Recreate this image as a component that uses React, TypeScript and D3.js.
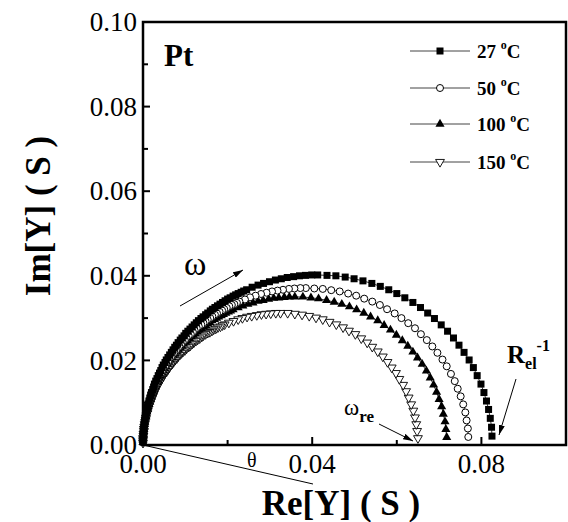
import React from "react";
import * as d3 from "d3";

// Re[Y], Im[Y] in S (right end -> origin)
const s27: [number, number][] = [
  [0.0825, 0.0021], [0.0824, 0.0042], [0.0821, 0.0063], [0.0817, 0.0084], [0.0812, 0.0104], [0.0806, 0.0124],
  [0.0799, 0.0144], [0.079, 0.0164], [0.0781, 0.0183], [0.0771, 0.0201], [0.0759, 0.0219], [0.0747, 0.0236],
  [0.0734, 0.0253], [0.072, 0.0269], [0.0705, 0.0284], [0.0689, 0.0299], [0.0673, 0.0312], [0.0656, 0.0325],
  [0.0638, 0.0337], [0.0619, 0.0348], [0.06, 0.0358], [0.0581, 0.0367], [0.0561, 0.0375], [0.0541, 0.0382],
  [0.052, 0.0388], [0.0499, 0.0393], [0.0478, 0.0397], [0.0456, 0.04], [0.0435, 0.0401],
  [0.0413, 0.0402], [0.0399, 0.0402], [0.0384, 0.0401], [0.037, 0.04], [0.0356, 0.0398], [0.0341, 0.0396],
  [0.0327, 0.0393], [0.0313, 0.039], [0.0299, 0.0386], [0.0285, 0.0382], [0.0272, 0.0378], [0.0258, 0.0373],
  [0.0245, 0.0367], [0.0238, 0.0364], [0.0232, 0.0361], [0.0225, 0.0358], [0.0219, 0.0355], [0.0213, 0.0352],
  [0.0206, 0.0348], [0.02, 0.0345], [0.0194, 0.0341], [0.0188, 0.0337], [0.0182, 0.0333], [0.0176, 0.0329],
  [0.017, 0.0325], [0.0164, 0.0321], [0.0159, 0.0317], [0.0153, 0.0312], [0.0148, 0.0308], [0.0142, 0.0303],
  [0.0137, 0.0299], [0.0131, 0.0294], [0.0126, 0.0289], [0.0121, 0.0284], [0.0116, 0.0279], [0.0111, 0.0274],
  [0.0106, 0.0269], [0.0101, 0.0264], [0.0097, 0.0258], [0.0092, 0.0253], [0.0088, 0.0248], [0.0083, 0.0242],
  [0.0079, 0.0236], [0.0075, 0.0231], [0.0071, 0.0225], [0.0067, 0.0219], [0.0063, 0.0213], [0.0059, 0.0207],
  [0.0055, 0.0201], [0.0052, 0.0195], [0.0048, 0.0189], [0.0045, 0.0183], [0.0042, 0.0176], [0.0039, 0.017],
  [0.0036, 0.0164], [0.0033, 0.0157], [0.003, 0.0151], [0.0027, 0.0144], [0.0025, 0.0137], [0.0023, 0.0131],
  [0.002, 0.0124], [0.0018, 0.0118], [0.0016, 0.0111], [0.0014, 0.0104], [0.0012, 0.0097], [0.0011, 0.009],
  [0.0009, 0.0084], [0.0008, 0.0077], [0.0006, 0.007], [0.0005, 0.0063], [0.0004, 0.0056], [0.0003, 0.0049],
  [0.0002, 0.0042], [0.0002, 0.0035], [0.0001, 0.0028], [0.0001, 0.0021], [0.0, 0.0014], [0.0, 0.0007],
];

const s50: [number, number][] = [
  [0.0769, 0.0019], [0.0768, 0.0039], [0.0765, 0.0058], [0.0762, 0.0077], [0.0757, 0.0096], [0.0751, 0.0115],
  [0.0744, 0.0133], [0.0737, 0.0151], [0.0728, 0.0168], [0.0718, 0.0186], [0.0708, 0.0202], [0.0696, 0.0218],
  [0.0684, 0.0233], [0.0671, 0.0248], [0.0657, 0.0262], [0.0643, 0.0276], [0.0627, 0.0288], [0.0611, 0.03],
  [0.0595, 0.0311], [0.0577, 0.0321], [0.056, 0.0331], [0.0542, 0.0339], [0.0523, 0.0346], [0.0504, 0.0353],
  [0.0485, 0.0358], [0.0465, 0.0363], [0.0445, 0.0366], [0.0425, 0.0369], [0.0405, 0.037],
  [0.0385, 0.0371], [0.0372, 0.0371], [0.0358, 0.037], [0.0345, 0.0369], [0.0331, 0.0367], [0.0318, 0.0365],
  [0.0305, 0.0363], [0.0292, 0.036], [0.0279, 0.0357], [0.0266, 0.0353], [0.0253, 0.0349], [0.0241, 0.0344],
  [0.0228, 0.0339], [0.0222, 0.0336], [0.0216, 0.0333], [0.021, 0.0331], [0.0204, 0.0328], [0.0198, 0.0324],
  [0.0192, 0.0321], [0.0187, 0.0318], [0.0181, 0.0315], [0.0175, 0.0311], [0.017, 0.0308], [0.0164, 0.0304],
  [0.0159, 0.03], [0.0153, 0.0296], [0.0148, 0.0292], [0.0143, 0.0288], [0.0138, 0.0284], [0.0132, 0.028],
  [0.0127, 0.0276], [0.0122, 0.0271], [0.0118, 0.0267], [0.0113, 0.0262], [0.0108, 0.0258], [0.0103, 0.0253],
  [0.0099, 0.0248], [0.0094, 0.0243], [0.009, 0.0238], [0.0086, 0.0233], [0.0082, 0.0228], [0.0078, 0.0223],
  [0.0074, 0.0218], [0.007, 0.0213], [0.0066, 0.0207], [0.0062, 0.0202], [0.0059, 0.0197], [0.0055, 0.0191],
  [0.0052, 0.0186], [0.0048, 0.018], [0.0045, 0.0174], [0.0042, 0.0168], [0.0039, 0.0163], [0.0036, 0.0157],
  [0.0033, 0.0151], [0.0031, 0.0145], [0.0028, 0.0139], [0.0026, 0.0133], [0.0023, 0.0127], [0.0021, 0.0121],
  [0.0019, 0.0115], [0.0017, 0.0108], [0.0015, 0.0102], [0.0013, 0.0096], [0.0011, 0.009], [0.001, 0.0083],
  [0.0008, 0.0077], [0.0007, 0.0071], [0.0006, 0.0064], [0.0005, 0.0058], [0.0004, 0.0052], [0.0003, 0.0045],
  [0.0002, 0.0039], [0.0001, 0.0032], [0.0001, 0.0026], [0.0001, 0.0019], [0.0, 0.0013], [0.0, 0.0006],
];

const s100: [number, number][] = [
  [0.0718, 0.0018], [0.0716, 0.0037], [0.0714, 0.0055], [0.071, 0.0073], [0.0706, 0.0091], [0.07, 0.0108],
  [0.0694, 0.0125], [0.0687, 0.0142], [0.0679, 0.0159], [0.067, 0.0175], [0.066, 0.0191], [0.0649, 0.0206],
  [0.0638, 0.022], [0.0626, 0.0234], [0.0613, 0.0247], [0.0599, 0.026], [0.0585, 0.0272], [0.057, 0.0283],
  [0.0555, 0.0294], [0.0538, 0.0303], [0.0522, 0.0312], [0.0505, 0.032], [0.0488, 0.0327], [0.047, 0.0333],
  [0.0452, 0.0338], [0.0434, 0.0342], [0.0415, 0.0346], [0.0397, 0.0348], [0.0378, 0.035],
  [0.0359, 0.035], [0.0346, 0.035], [0.0334, 0.0349], [0.0321, 0.0348], [0.0309, 0.0347], [0.0297, 0.0345],
  [0.0284, 0.0342], [0.0272, 0.034], [0.026, 0.0336], [0.0248, 0.0333], [0.0236, 0.0329], [0.0225, 0.0325],
  [0.0213, 0.032], [0.0207, 0.0317], [0.0202, 0.0315], [0.0196, 0.0312], [0.019, 0.0309], [0.0185, 0.0306],
  [0.0179, 0.0303], [0.0174, 0.03], [0.0169, 0.0297], [0.0163, 0.0294], [0.0158, 0.029], [0.0153, 0.0287],
  [0.0148, 0.0283], [0.0143, 0.028], [0.0138, 0.0276], [0.0133, 0.0272], [0.0128, 0.0268], [0.0123, 0.0264],
  [0.0119, 0.026], [0.0114, 0.0256], [0.011, 0.0252], [0.0105, 0.0247], [0.0101, 0.0243], [0.0096, 0.0239],
  [0.0092, 0.0234], [0.0088, 0.023], [0.0084, 0.0225], [0.008, 0.022], [0.0076, 0.0215], [0.0072, 0.0211],
  [0.0069, 0.0206], [0.0065, 0.0201], [0.0061, 0.0196], [0.0058, 0.0191], [0.0055, 0.0185], [0.0051, 0.018],
  [0.0048, 0.0175], [0.0045, 0.017], [0.0042, 0.0164], [0.0039, 0.0159], [0.0036, 0.0153], [0.0034, 0.0148],
  [0.0031, 0.0142], [0.0029, 0.0137], [0.0026, 0.0131], [0.0024, 0.0125], [0.0022, 0.012], [0.002, 0.0114],
  [0.0018, 0.0108], [0.0016, 0.0102], [0.0014, 0.0096], [0.0012, 0.0091], [0.0011, 0.0085], [0.0009, 0.0079],
  [0.0008, 0.0073], [0.0007, 0.0067], [0.0005, 0.0061], [0.0004, 0.0055], [0.0003, 0.0049], [0.0003, 0.0043],
  [0.0002, 0.0037], [0.0001, 0.0031], [0.0001, 0.0024], [0.0, 0.0018], [0.0, 0.0012], [0.0, 0.0006],
];

const s150: [number, number][] = [
  [0.065, 0.0016], [0.0648, 0.0033], [0.0646, 0.0049], [0.0643, 0.0065], [0.0639, 0.0081], [0.0634, 0.0096],
  [0.0628, 0.0112], [0.0622, 0.0127], [0.0615, 0.0142], [0.0606, 0.0156], [0.0598, 0.017], [0.0588, 0.0183],
  [0.0578, 0.0196], [0.0567, 0.0209], [0.0555, 0.0221], [0.0542, 0.0232], [0.053, 0.0242], [0.0516, 0.0252],
  [0.0502, 0.0262], [0.0487, 0.027], [0.0473, 0.0278], [0.0457, 0.0285], [0.0441, 0.0291], [0.0425, 0.0297],
  [0.0409, 0.0301], [0.0393, 0.0305], [0.0376, 0.0308], [0.0359, 0.031], [0.0342, 0.0312],
  [0.0325, 0.0312], [0.0314, 0.0312], [0.0302, 0.0311], [0.0291, 0.031], [0.028, 0.0309], [0.0269, 0.0307],
  [0.0257, 0.0305], [0.0246, 0.0303], [0.0235, 0.03], [0.0225, 0.0297], [0.0214, 0.0293], [0.0203, 0.0289],
  [0.0193, 0.0285], [0.0188, 0.0283], [0.0183, 0.028], [0.0177, 0.0278], [0.0172, 0.0275], [0.0167, 0.0273],
  [0.0163, 0.027], [0.0158, 0.0267], [0.0153, 0.0265], [0.0148, 0.0262], [0.0143, 0.0259], [0.0139, 0.0256],
  [0.0134, 0.0252], [0.0129, 0.0249], [0.0125, 0.0246], [0.012, 0.0242], [0.0116, 0.0239], [0.0112, 0.0235],
  [0.0108, 0.0232], [0.0103, 0.0228], [0.0099, 0.0224], [0.0095, 0.0221], [0.0091, 0.0217], [0.0087, 0.0213],
  [0.0083, 0.0209], [0.008, 0.0205], [0.0076, 0.0201], [0.0072, 0.0196], [0.0069, 0.0192], [0.0065, 0.0188],
  [0.0062, 0.0183], [0.0059, 0.0179], [0.0056, 0.0174], [0.0052, 0.017], [0.0049, 0.0165], [0.0046, 0.0161],
  [0.0044, 0.0156], [0.0041, 0.0151], [0.0038, 0.0146], [0.0035, 0.0142], [0.0033, 0.0137], [0.003, 0.0132],
  [0.0028, 0.0127], [0.0026, 0.0122], [0.0024, 0.0117], [0.0022, 0.0112], [0.002, 0.0107], [0.0018, 0.0102],
  [0.0016, 0.0096], [0.0014, 0.0091], [0.0013, 0.0086], [0.0011, 0.0081], [0.001, 0.0075], [0.0008, 0.007],
  [0.0007, 0.0065], [0.0006, 0.006], [0.0005, 0.0054], [0.0004, 0.0049], [0.0003, 0.0043], [0.0002, 0.0038],
  [0.0002, 0.0033], [0.0001, 0.0027], [0.0001, 0.0022], [0.0, 0.0016], [0.0, 0.0011], [0.0, 0.0005],
];

const legendLabels = ["27", "50", "100", "150"];
const xTicks = [0, 0.02, 0.04, 0.06, 0.08, 0.1];
const xTickLabels = ["0.00", "", "0.04", "", "0.08", ""];
const yTicks = [0, 0.02, 0.04, 0.06, 0.08, 0.1];
const yTickLabels = ["0.00", "0.02", "0.04", "0.06", "0.08", "0.10"];
const yMinorTicks = [0.01, 0.03, 0.05, 0.07, 0.09];

const W = 568;
const H = 522;
const serif = "'Liberation Serif', 'Times New Roman', serif";

function Marker({ kind, cx, cy }: { kind: number; cx: number; cy: number }) {
  if (kind === 0) return <rect x={cx - 3.5} y={cy - 3.5} width={7} height={7} fill="#000" />;
  if (kind === 1) return <circle cx={cx} cy={cy} r={3.5} fill="#fff" stroke="#000" strokeWidth={1} />;
  const tri = d3.symbol().type(d3.symbolTriangle).size(kind === 2 ? 36 : 34)();
  if (kind === 2) return <path d={tri as string} transform={`translate(${cx},${cy})`} fill="#000" />;
  return (
    <path d={tri as string} transform={`translate(${cx},${cy}) rotate(180)`} fill="#fff" stroke="#000" strokeWidth={0.9} />
  );
}

export default function App() {
  const margin = { top: 22, right: 2, bottom: 77, left: 143 };
  const x = d3.scaleLinear().domain([0, 0.1]).range([margin.left, W - margin.right]);
  const y = d3.scaleLinear().domain([0, 0.1]).range([H - margin.bottom, margin.top]);
  const line = d3
    .line<[number, number]>()
    .x((d) => x(d[0]))
    .y((d) => y(d[1]));
  const series = [s27, s50, s100, s150];
  // draw the innermost (150 C) first so the filled markers sit on top near the origin
  const drawOrder = [3, 2, 1, 0];
  const x0 = x(0);
  const y0 = y(0);
  const legendRows = [51, 88, 124, 162];

  return (
    <div style={{ position: "absolute", left: 0, top: 0 }}>
      <svg width={W} height={H} style={{ display: "block", background: "#fff", fontFamily: serif }}>
        <defs>
          <marker id="ah" viewBox="0 0 10 6" refX={10} refY={3} markerWidth={10} markerHeight={6}
            markerUnits="userSpaceOnUse" orient="auto">
            <path d="M0,0 L10,3 L0,6 Z" fill="#000" />
          </marker>
        </defs>

        {/* series lines + markers */}
        {drawOrder.map((i) => (
          <g key={"s" + i}>
            <path d={line(series[i]) as string} fill="none" stroke="#000" strokeWidth={0.8} />
            {series[i].map((d, j) => (
              <Marker key={j} kind={i} cx={x(d[0])} cy={y(d[1])} />
            ))}
          </g>
        ))}

        {/* frame */}
        <rect x={x0} y={margin.top} width={x(0.1) - x0} height={y0 - margin.top} fill="none" stroke="#000" strokeWidth={2.5} />

        {/* y ticks */}
        {yTicks.map((t, i) => (
          <g key={"yt" + i}>
            <line x1={x0} x2={x0 + 7} y1={y(t)} y2={y(t)} stroke="#000" strokeWidth={2} />
            <text x={x0 - 6} y={y(t)} dy="0.34em" textAnchor="end" fontSize={27}>
              {yTickLabels[i]}
            </text>
          </g>
        ))}
        {yMinorTicks.map((t, i) => (
          <line key={"ym" + i} x1={x0} x2={x0 + 5} y1={y(t)} y2={y(t)} stroke="#000" strokeWidth={2} />
        ))}

        {/* x ticks */}
        {xTicks.map((t, i) => (
          <g key={"xt" + i}>
            <line x1={x(t)} x2={x(t)} y1={y0} y2={y0 - (xTickLabels[i] ? 8 : 5)} stroke="#000" strokeWidth={2} />
            {xTickLabels[i] && (
              <text x={x(t)} y={y0 + 28} textAnchor="middle" fontSize={27}>
                {xTickLabels[i]}
              </text>
            )}
          </g>
        ))}

        {/* axis titles */}
        <text x={341} y={515} textAnchor="middle" fontSize={35} fontWeight="bold">
          Re[Y] ( S )
        </text>
        <text transform="translate(50,216) rotate(-90)" textAnchor="middle" fontSize={35} fontWeight="bold">
          Im[Y] ( S )
        </text>

        {/* Pt label */}
        <text x={164} y={66} fontSize={31} fontWeight="bold">
          Pt
        </text>

        {/* legend */}
        {legendLabels.map((lab, i) => (
          <g key={"lg" + i}>
            <line x1={410} x2={470} y1={legendRows[i]} y2={legendRows[i]} stroke="#444" strokeWidth={1} />
            <Marker kind={i} cx={440} cy={legendRows[i]} />
            <text x={477} y={legendRows[i] + 7} fontSize={19} fontWeight="bold">
              {lab + " "}
              <tspan fontSize={12} dy={-9}>o</tspan>
              <tspan fontSize={19} dy={9}>C</tspan>
            </text>
          </g>
        ))}

        {/* omega arrow */}
        <text x={184} y={275} fontSize={34}>ω</text>
        <line x1={180} y1={306} x2={243} y2={270} stroke="#000" strokeWidth={1} markerEnd="url(#ah)" />

        {/* theta line */}
        <line x1={x0} y1={y0} x2={313} y2={484} stroke="#000" strokeWidth={1} />
        <text x={247} y={467} fontSize={20}>θ</text>

        {/* omega_re */}
        <text x={344} y={415} fontSize={23}>
          ω<tspan fontSize={17} fontWeight="bold" dy={7}>re</tspan>
        </text>
        <line x1={379} y1={424} x2={413} y2={441} stroke="#000" strokeWidth={1} markerEnd="url(#ah)" />

        {/* R_el^-1 */}
        <text x={507} y={363} fontSize={25} fontWeight="bold">
          R<tspan fontSize={16} dy={6}>el</tspan>
          <tspan fontSize={16} dy={-18}>-1</tspan>
        </text>
        <line x1={516} y1={379} x2={499} y2={435} stroke="#000" strokeWidth={1} markerEnd="url(#ah)" />
      </svg>
    </div>
  );
}
